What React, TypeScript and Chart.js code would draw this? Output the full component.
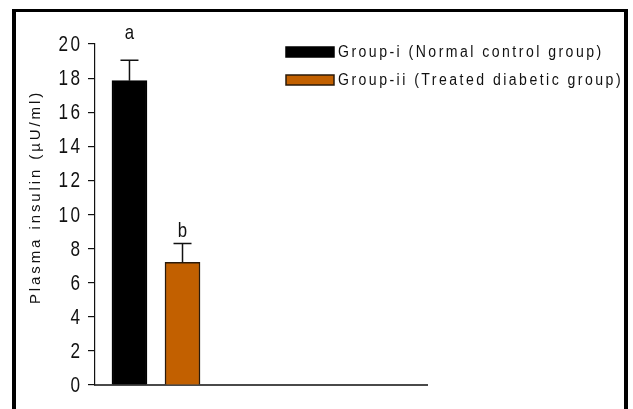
import React, { useEffect, useRef } from "react";
import { Chart, registerables } from "chart.js";

Chart.register(...registerables);

const groupLabels = ["Group-i (Normal control group)", "Group-ii (Treated diabetic group)"];
const insulinMeans = [17.85, 7.2];
const insulinErrors = [1.2, 1.1];
const significanceLetters = ["a", "b"];
const barColors = ["#000000", "#C26000"];
const barBorders = ["#000000", "#2a1a0a"];
const yMin = 0;
const yMax = 20;
const yStep = 2;
const yTitle = "Plasma insulin (\u00B5U/ml)";

const SANS = '"Liberation Sans", Arial, sans-serif';

function narrowText(ctx: any, text: string, x: number, y: number, size: number, sx: number, spacing: number, align: string, baseline: string) {
  ctx.save();
  ctx.font = `${size}px ${SANS}`;
  ctx.letterSpacing = `${spacing}px`;
  ctx.textBaseline = baseline;
  ctx.textAlign = "left";
  const w = ctx.measureText(text).width - spacing;
  ctx.translate(x, y);
  ctx.scale(sx, 1);
  let x0 = 0;
  if (align === "right") x0 = -w;
  else if (align === "center") x0 = -w / 2;
  ctx.fillText(text, x0, 0);
  ctx.restore();
}

const decorPlugin = {
  id: "decor",
  afterDatasetsDraw(chart: any) {
    const ctx = chart.ctx;
    const xs = chart.scales.x;
    const ys = chart.scales.y;
    ctx.save();
    insulinMeans.forEach((m, i) => {
      const px = xs.getPixelForValue(i);
      const yTop = ys.getPixelForValue(m);
      const yErr = ys.getPixelForValue(m + insulinErrors[i]);
      ctx.strokeStyle = "#111";
      ctx.lineWidth = 1.5;
      ctx.beginPath();
      ctx.moveTo(px, yTop);
      ctx.lineTo(px, yErr);
      ctx.moveTo(px - 9, yErr);
      ctx.lineTo(px + 9, yErr);
      ctx.stroke();
      ctx.fillStyle = "#111";
      let ly = yErr - 6;
      if (ly < chart.chartArea.top + 25) ly = chart.chartArea.top - 5;
      narrowText(ctx, significanceLetters[i], px, ly, 21, 0.8, 0, "center", "alphabetic");
    });
    ctx.restore();
  },
  afterDraw(chart: any) {
    const ctx = chart.ctx;
    const ys = chart.scales.y;
    ctx.save();
    ctx.fillStyle = "#111";
    // y tick labels from the library's ticks
    ys.ticks.forEach((t: any) => {
      const py = ys.getPixelForValue(t.value);
      narrowText(ctx, String(t.value), 80, py + 1, 22, 0.78, 3, "right", "middle");
    });
    // legend
    const boxX = 286;
    const rows = [52, 80];
    groupLabels.forEach((label, i) => {
      const cy = rows[i];
      ctx.fillStyle = barColors[i];
      ctx.fillRect(boxX, cy - 5, 48, 10);
      ctx.strokeStyle = barBorders[i];
      ctx.lineWidth = 1.5;
      ctx.strokeRect(boxX, cy - 5, 48, 10);
      ctx.fillStyle = "#111";
      narrowText(ctx, label, boxX + 52, cy + 1, 16, 0.88, 2.8, "left", "middle");
    });
    // y title
    ctx.translate(36, 197);
    ctx.rotate(-Math.PI / 2);
    ctx.font = `15px ${SANS}`;
    ctx.letterSpacing = "2.9px";
    ctx.textAlign = "center";
    ctx.textBaseline = "middle";
    ctx.fillStyle = "#111";
    ctx.fillText(yTitle, 0, 0);
    ctx.restore();
  },
};

export default function App() {
  const ref = useRef<HTMLCanvasElement>(null);
  useEffect(() => {
    const canvas = ref.current!;
    const chart = new Chart(canvas, {
      type: "bar",
      data: {
        datasets: groupLabels.map((label, i) => ({
          label,
          data: [{ x: i, y: insulinMeans[i] }],
          backgroundColor: barColors[i],
          borderColor: barBorders[i],
          borderWidth: 1.5,
          barThickness: 35,
          grouped: false,
        })) as any,
      },
      plugins: [decorPlugin],
      options: {
        animation: false,
        responsive: false,
        maintainAspectRatio: false,
        layout: { padding: { left: 0, top: 44, right: 206, bottom: 23 } },
        plugins: { legend: { display: false }, tooltip: { enabled: false } },
        scales: {
          x: {
            type: "linear",
            offset: false,
            min: -0.65,
            max: 5.61,
            ticks: { display: false },
            grid: { display: false, offset: false },
            border: { display: true, color: "#4a4a4a", width: 2 },
            afterFit: (s: any) => {
              s.height = 1;
            },
          },
          y: {
            min: yMin,
            max: yMax,
            ticks: { stepSize: yStep, display: false },
            grid: { display: true, drawOnChartArea: false, drawTicks: true, tickLength: 7, color: "#111", lineWidth: 1.2 },
            border: { display: true, color: "#111", width: 1.2 },
            afterFit: (s: any) => {
              s.width = 95;
            },
          },
        },
      } as any,
    });
    return () => chart.destroy();
  }, []);
  return (
    <div style={{ position: "fixed", left: 0, top: 0, width: 633, height: 409, background: "#fff", overflow: "hidden" }}>
      <div
        style={{
          position: "absolute",
          left: 12,
          top: 9,
          width: 616,
          height: 420,
          boxSizing: "border-box",
          borderLeft: "4px solid #000",
          borderRight: "4px solid #000",
          borderTop: "3px solid #000",
        }}
      />
      <canvas ref={ref} width={633} height={409} style={{ position: "absolute", left: 0, top: 0, width: 633, height: 409 }} />
    </div>
  );
}
